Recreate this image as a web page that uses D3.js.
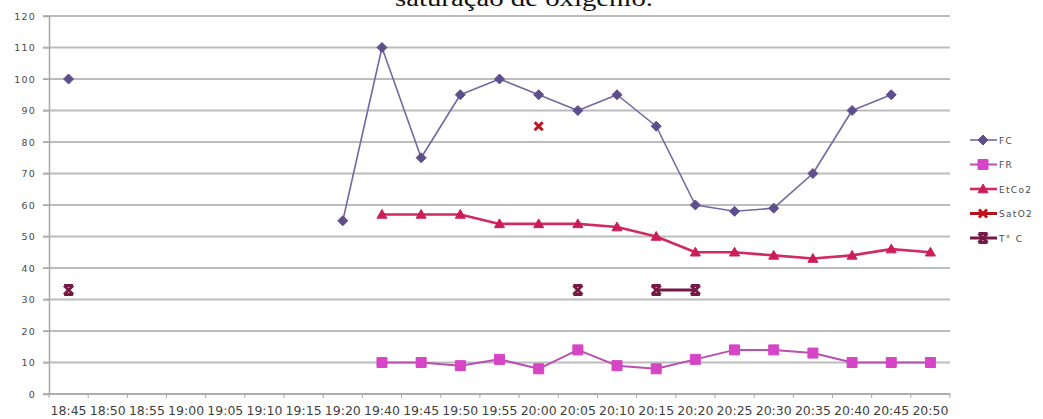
<!DOCTYPE html>
<html>
<head>
<meta charset="utf-8">
<script src="https://cdn.jsdelivr.net/npm/d3@7"></script>
<style>
  html, body { margin: 0; padding: 0; background: #fff; }
  svg { display: block; }
  text { font-family: "DejaVu Sans", sans-serif; }
</style>
</head>
<body>
<div id="chart"></div>
<script>
// Time of each reading
const categories = ["18:45","18:50","18:55","19:00","19:05","19:10","19:15","19:20",
  "19:40","19:45","19:50","19:55","20:00","20:05","20:10","20:15","20:20",
  "20:25","20:30","20:35","20:40","20:45","20:50"];

// Readings per time slot (null = not measured)
const fcValues    = [100,null,null,null,null,null,null,55,110,75,95,100,95,90,95,85,60,58,59,70,90,95,null];
const frValues    = [null,null,null,null,null,null,null,null,10,10,9,11,8,14,9,8,11,14,14,13,10,10,10];
const etco2Values = [null,null,null,null,null,null,null,null,57,57,57,54,54,54,53,50,45,45,44,43,44,46,45];
const sato2Values = [null,null,null,null,null,null,null,null,null,null,null,null,85,null,null,null,null,null,null,null,null,null,null];
const tempValues  = [33,null,null,null,null,null,null,null,null,null,null,null,null,33,null,33,33,null,null,null,null,null,null];

const yTicks = [0,10,20,30,40,50,60,70,80,90,100,110,120];
const seriesNames = ["FC","FR","EtCo2","SatO2","T° C"];
const titleText = "saturação de oxigênio.";

const W = 1043, H = 419;
const svg = d3.select("#chart").append("svg").attr("width", W).attr("height", H);

const x = d3.scaleBand().domain(categories).range([49, 950]).padding(0);
const y = d3.scaleLinear().domain([0, 120]).range([394, 16]);
const cx = c => x(c) + x.bandwidth() / 2;

// Caption fragment above the plot
svg.append("text")
  .attr("x", 524).attr("y", 6)
  .attr("text-anchor", "middle")
  .attr("textLength", 258).attr("lengthAdjust", "spacingAndGlyphs")
  .style("font-family", "'Liberation Serif', 'Times New Roman', serif")
  .style("font-size", "23px").attr("fill", "#111")
  .text(titleText);

// Horizontal gridlines
svg.append("g").selectAll("line").data(yTicks).join("line")
  .attr("x1", 43).attr("x2", 950)
  .attr("y1", d => y(d)).attr("y2", d => y(d))
  .attr("stroke", "#bcbcbc").attr("stroke-width", 2);

// Y axis
const yAxis = svg.append("g").attr("transform", "translate(49,0)")
  .call(d3.axisLeft(y).tickValues(yTicks).tickSize(6).tickPadding(7));
yAxis.select(".domain").attr("stroke", "#a8a8a8").attr("stroke-width", 1.5);
yAxis.selectAll(".tick line").attr("stroke", "#a8a8a8");
yAxis.selectAll(".tick text")
  .style("font-size", "9.5px").attr("fill", "#4a4a4a")
  .style("letter-spacing", "1.2px");

// X axis: ticks at band boundaries, labels centred in bands
const xAxis = svg.append("g").attr("transform", "translate(0,394)");
xAxis.append("line").attr("x1", 49).attr("x2", 950).attr("y1", 0).attr("y2", 0)
  .attr("stroke", "#a8a8a8").attr("stroke-width", 1.5);
xAxis.selectAll("line.tk").data(categories.concat(["end"])).join("line")
  .attr("class", "tk")
  .attr("x1", (d, i) => i < categories.length ? x(d) : x.range()[1])
  .attr("x2", (d, i) => i < categories.length ? x(d) : x.range()[1])
  .attr("y1", 0).attr("y2", 4)
  .attr("stroke", "#a8a8a8");
xAxis.selectAll("text").data(categories).join("text")
  .attr("x", d => cx(d)).attr("y", 21)
  .attr("text-anchor", "middle")
  .attr("textLength", 36).attr("lengthAdjust", "spacingAndGlyphs")
  .style("font-size", "11.5px").attr("fill", "#3f3f3f")
  .text(d => d);

// Marker shapes
const diamond = s => `M0,${-s}L${s},0L0,${s}L${-s},0Z`;
const square = s => `M${-s},${-s}H${s}V${s}H${-s}Z`;
const triangle = s => `M0,${-s}L${s},${s*0.75}L${-s},${s*0.75}Z`;
const cross = s => `M${-s},${-s}L${s},${s}M${s},${-s}L${-s},${s}`;
const star = s => `M${-s},${-s}L${s},${s}M${s},${-s}L${-s},${s}M${-s},${-s}H${s}M${-s},${s}H${s}`;

const series = [
  { name: "FC",    values: fcValues,    line: "#7468a0", lw: 1.6, mark: "#5e4f8c", shape: diamond(5),  fill: true,  ms: 0 },
  { name: "FR",    values: frValues,    line: "#b94fae", lw: 2,   mark: "#d545c6", shape: square(5),   fill: true,  ms: 0 },
  { name: "EtCo2", values: etco2Values, line: "#cf2a64", lw: 2.6, mark: "#cc1d5a", shape: triangle(5), fill: true,  ms: 0 },
  { name: "SatO2", values: sato2Values, line: "#b3121d", lw: 3,   mark: "#c2131f", shape: cross(4),    fill: false, ms: 3 },
  { name: "T° C",  values: tempValues,  line: "#761a45", lw: 3,   mark: "#761a45", shape: star(4.5),   fill: false, ms: 3 }
];

const line = d3.line()
  .defined(d => d.v != null)
  .x(d => cx(d.c)).y(d => y(d.v));

series.forEach(s => {
  const pts = categories.map((c, i) => ({ c, v: s.values[i] }));
  const g = svg.append("g");
  g.append("path").datum(pts)
    .attr("d", line).attr("fill", "none")
    .attr("stroke", s.line).attr("stroke-width", s.lw).attr("stroke-linejoin", "round");
  g.selectAll("path.m").data(pts.filter(d => d.v != null)).join("path")
    .attr("class", "m")
    .attr("transform", d => `translate(${cx(d.c)},${y(d.v)})`)
    .attr("d", s.shape)
    .attr("fill", s.fill ? s.mark : "none")
    .attr("stroke", s.mark)
    .attr("stroke-width", s.fill ? 1 : s.ms);
});

// Legend
const legend = svg.append("g");
series.forEach((s, i) => {
  const ly = 140 + i * 24.5;
  const g = legend.append("g").attr("transform", `translate(0,${ly})`);
  g.append("line").attr("x1", 970).attr("x2", 997).attr("y1", 0).attr("y2", 0)
    .attr("stroke", s.line).attr("stroke-width", s.lw);
  g.append("path").attr("transform", "translate(983,0)")
    .attr("d", s.shape)
    .attr("fill", s.fill ? s.mark : "none")
    .attr("stroke", s.mark)
    .attr("stroke-width", s.fill ? 1 : s.ms);
  g.append("text").attr("x", 999).attr("y", 3.5)
    .style("font-size", "9px").attr("fill", "#4a4a4a")
    .style("letter-spacing", "1.3px")
    .text(s.name);
});
</script>
</body>
</html>
